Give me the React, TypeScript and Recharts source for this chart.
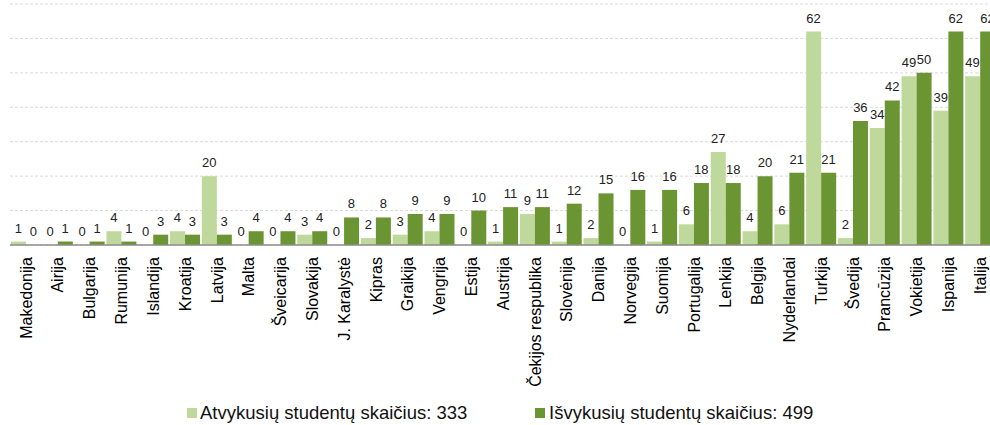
import { ComposedChart, Bar, Line, XAxis, YAxis, CartesianGrid, Legend, LabelList } from 'recharts';

// šalys
const countries = [
  'Makedonija', 'Airija', 'Bulgarija', 'Rumunija', 'Islandija', 'Kroatija', 'Latvija', 'Malta',
  'Šveicarija', 'Slovakija', 'J. Karalystė', 'Kipras', 'Graikija', 'Vengrija', 'Estija', 'Austrija',
  'Čekijos respublika', 'Slovėnija', 'Danija', 'Norvegija', 'Suomija', 'Portugalija', 'Lenkija',
  'Belgija', 'Nyderlandai', 'Turkija', 'Švedija', 'Prancūzija', 'Vokietija', 'Ispanija', 'Italija',
];

const arrived = [1, 0, 0, 4, 0, 4, 20, 0, 0, 3, 0, 2, 3, 4, 0, 1, 9, 1, 2, 0, 1, 6, 27, 4, 6, 62, 2, 34, 49, 39, 49];
const departed = [0, 1, 1, 1, 3, 3, 3, 4, 4, 4, 8, 8, 9, 9, 10, 11, 11, 12, 15, 16, 16, 18, 18, 20, 21, 21, 36, 42, 50, 62, 62];

const yTicks = [0, 10, 20, 30, 40, 50, 60];

const LIGHT = '#bfd89b';
const DARK = '#6b9433';
const FONT = '"Liberation Sans", Arial, sans-serif';

const data = countries.map((name, i) => ({ name, arrived: arrived[i], departed: departed[i] }));

const totalArrived = arrived.reduce((a, b) => a + b, 0);
const totalDeparted = departed.reduce((a, b) => a + b, 0);

const CountryTick = (props: any) => {
  const { x, y, payload } = props;
  return (
    <g transform={`translate(${x},${y})`}>
      <text
        transform="rotate(-90)"
        x={-10}
        y={0}
        dy="0.36em"
        textAnchor="end"
        fontSize={16}
        fontFamily={FONT}
        fill="#000"
      >
        {payload.value}
      </text>
    </g>
  );
};

// zero-height bars get no label in recharts 3, so values are written from invisible lines
const valueLabel = (shift: number) => (props: any) => {
  const { x, y, value } = props;
  return (
    <text x={x + shift} y={y - 9} textAnchor="middle" fontSize={13} fontFamily={FONT} fill="#222">
      {value}
    </text>
  );
};

const LegendBox = () => (
  <div style={{ position: 'relative', height: 30, fontFamily: FONT, fontSize: 18.5, color: '#111' }}>
    <div style={{ position: 'absolute', left: 187, top: 8, display: 'flex', alignItems: 'center', lineHeight: '20px' }}>
      <span style={{ width: 10, height: 10, background: LIGHT, marginRight: 3, display: 'inline-block' }} />
      Atvykusių studentų skaičius: {totalArrived}
    </div>
    <div style={{ position: 'absolute', left: 535, top: 8, display: 'flex', alignItems: 'center', lineHeight: '20px' }}>
      <span style={{ width: 10, height: 10, background: DARK, marginRight: 4, display: 'inline-block' }} />
      Išvykusių studentų skaičius: {totalDeparted}
    </div>
  </div>
);

export default function App() {
  return (
    <div style={{ position: 'absolute', left: 0, top: 0, width: 990, height: 425, overflow: 'hidden', background: '#fff' }}>
      <ComposedChart
        width={996}
        height={425}
        data={data}
        margin={{ top: 4, right: 0, left: 10, bottom: 0 }}
        barCategoryGap={1}
        barGap={0}
      >
        <CartesianGrid vertical={false} stroke="#d9d9d9" strokeDasharray="3 2" />
        <XAxis
          dataKey="name"
          interval={0}
          height={150}
          tickLine={false}
          tickSize={0}
          tick={<CountryTick />}
          axisLine={{ stroke: '#8c8c8c', strokeWidth: 1.5 }}
        />
        <YAxis hide domain={[0, 70]} ticks={yTicks} />
        <Legend verticalAlign="bottom" content={<LegendBox />} wrapperStyle={{ left: 0, width: 996 }} />
        <Bar dataKey="arrived" fill={LIGHT} isAnimationActive={false} />
        <Bar dataKey="departed" fill={DARK} isAnimationActive={false} />
        <Line dataKey="arrived" stroke="none" dot={false} activeDot={false} isAnimationActive={false}>
          <LabelList dataKey="arrived" content={valueLabel(-7.5)} />
        </Line>
        <Line dataKey="departed" stroke="none" dot={false} activeDot={false} isAnimationActive={false}>
          <LabelList dataKey="departed" content={valueLabel(7.5)} />
        </Line>
      </ComposedChart>
    </div>
  );
}
